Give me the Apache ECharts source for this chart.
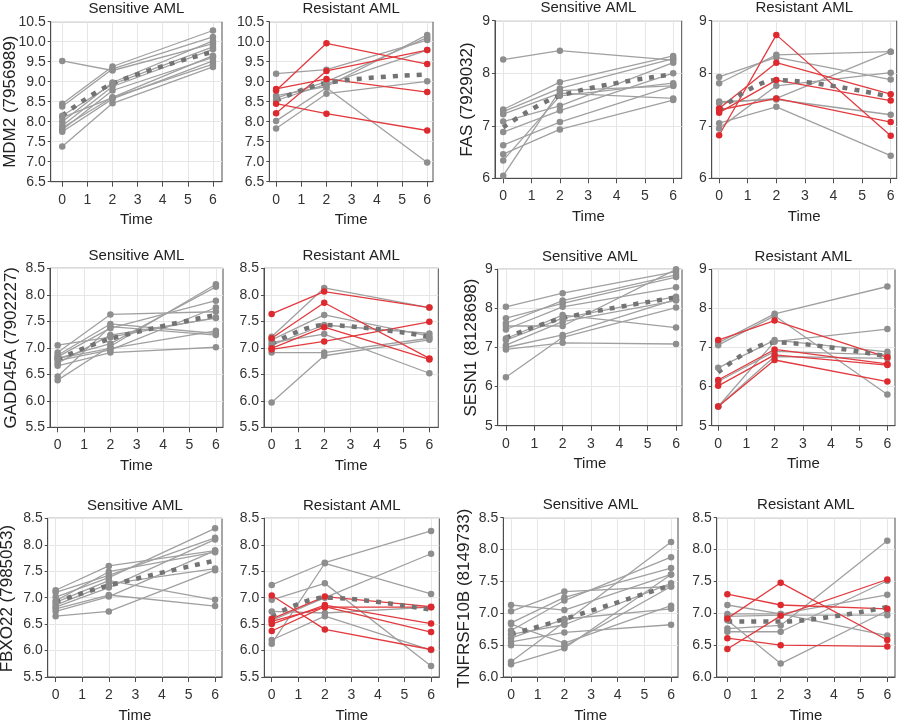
<!DOCTYPE html>
<html>
<head>
<meta charset="utf-8">
<script src="https://cdn.jsdelivr.net/npm/echarts@6/dist/echarts.min.js"></script>
<style>
  html, body { margin: 0; padding: 0; background: #fff; }
  #chart { width: 900px; height: 724px; }
</style>
</head>
<body>
<div id="chart"></div>
<script>
// sampling times and tick labels
const times = [0, 2, 6];
const timeTicks = [0, 1, 2, 3, 4, 5, 6];
const genes = ['MDM2 (7956989)', 'FAS (7929032)', 'GADD45A (7902227)', 'SESN1 (8128698)', 'FBXO22 (7985053)', 'TNFRSF10B (8149733)'];
const groups = ['Sensitive AML', 'Resistant AML'];
const yMin = [6.5, 6, 5.5, 5, 5.5, 6];
const yMax = [10.5, 9, 8.5, 9, 8.5, 8.5];
const yStep = [0.5, 1, 0.5, 1, 0.5, 0.5];

// each row = one patient, values at times 0, 2, 6
const mdm2Sens = [
  [9.52, 9.28, 9.95], [8.45, 9.38, 10.28], [8.38, 9.32, 10.12], [8.15, 8.94, 9.87],
  [8.0, 8.98, 10.02], [7.9, 8.88, 9.81], [7.85, 8.61, 9.65], [7.8, 8.78, 9.61],
  [7.75, 8.57, 9.52], [7.38, 8.46, 9.37], [8.1, 8.6, 9.44]
];
const mdm2SensTrend = [8.15, 8.95, 9.75];
const mdm2ResGray = [
  [9.2, 9.3, 10.04], [8.65, 8.88, 10.17], [8.59, 9.0, 10.1], [8.53, 8.94, 9.79],
  [7.83, 8.7, 9.01], [8.02, 8.85, 6.98]
];
const mdm2ResRed = [[8.78, 9.96, 9.44], [8.21, 9.27, 9.79], [8.82, 9.07, 8.74], [8.45, 8.2, 7.78]];
const mdm2ResTrend = [8.53, 8.97, 9.18];

const fasSens = [
  [8.26, 8.43, 8.25], [7.31, 7.83, 8.33], [7.27, 7.71, 8.28], [7.22, 7.62, 7.52],
  [7.08, 7.38, 8.2], [6.88, 7.29, 8.0], [6.63, 7.07, 7.76], [6.46, 6.93, 7.49],
  [6.34, 7.57, 7.81], [6.05, 7.67, 7.76]
];
const fasSensTrend = [6.97, 7.57, 7.98];
const fasResGray = [
  [7.93, 8.3, 7.88], [7.81, 8.35, 8.41], [7.46, 7.5, 7.21], [7.43, 7.52, 8.41],
  [6.95, 7.76, 8.01], [7.05, 7.36, 6.43]
];
const fasResRed = [[6.82, 8.73, 6.81], [7.33, 8.2, 7.6], [7.25, 7.87, 7.48], [7.3, 7.52, 7.07]];
const fasResTrend = [7.3, 7.87, 7.55];

const gaddSens = [
  [7.05, 7.2, 7.57], [6.91, 7.63, 7.68], [6.86, 7.45, 7.27], [6.83, 7.37, 7.89],
  [6.8, 7.08, 8.15], [6.76, 6.96, 7.76], [6.71, 7.24, 7.56], [6.66, 6.91, 7.01],
  [6.46, 7.4, 7.24], [6.39, 7.03, 8.2], [6.8, 6.99, 7.32]
];
const gaddSensTrend = [6.78, 7.17, 7.62];
const gaddResGray = [
  [7.21, 8.13, 7.76], [7.15, 7.62, 7.22], [7.1, 7.26, 6.52], [7.05, 7.43, 7.27],
  [6.91, 6.91, 7.18], [5.97, 6.85, 7.15]
];
const gaddResRed = [[7.64, 8.06, 7.76], [7.18, 7.85, 6.8], [6.99, 7.39, 6.78], [6.97, 7.12, 7.49]];
const gaddResTrend = [7.07, 7.43, 7.21];

const sesnSens = [
  [8.04, 8.39, 8.94], [7.75, 8.13, 8.8], [7.62, 8.2, 8.86], [7.55, 7.55, 9.0],
  [7.46, 8.04, 8.54], [7.23, 7.83, 7.51], [7.19, 7.75, 8.3], [7.06, 7.66, 8.2],
  [7.0, 7.32, 8.23], [6.95, 7.12, 7.09], [6.24, 7.26, 8.02]
];
const sesnSensTrend = [7.25, 7.75, 8.28];
const sesnResGray = [
  [7.12, 7.86, 8.56], [7.06, 7.81, 5.8], [6.48, 7.19, 6.89], [6.13, 6.9, 6.81],
  [5.49, 7.15, 7.47], [5.49, 6.77, 6.72]
];
const sesnResRed = [[7.19, 7.69, 6.75], [6.17, 6.95, 6.58], [6.02, 6.81, 6.55], [5.49, 6.68, 6.13]];
const sesnResTrend = [6.36, 7.13, 6.77];

const fbxoSens = [
  [7.14, 7.6, 7.89], [7.1, 7.42, 8.13], [7.01, 7.38, 8.31], [6.94, 7.49, 7.86],
  [6.91, 7.32, 6.96], [6.86, 7.26, 7.55], [6.82, 7.19, 8.1], [6.79, 7.05, 6.84],
  [6.74, 7.02, 7.89], [6.65, 6.74, 7.52]
];
const fbxoSensTrend = [6.92, 7.23, 7.7];
const fbxoResGray = [
  [7.24, 7.66, 8.26], [6.13, 7.65, 7.07], [6.96, 7.27, 5.71], [6.74, 6.71, 6.82],
  [6.57, 7.0, 7.83], [6.2, 6.65, 6.01]
];
const fbxoResRed = [[7.04, 6.4, 6.02], [6.6, 7.02, 6.83], [6.5, 6.86, 6.51], [6.37, 6.83, 6.35], [6.55, 6.82, 6.82]];
const fbxoResTrend = [6.65, 7.0, 6.77];

const tnfSens = [
  [7.13, 7.05, 7.61], [7.03, 7.34, 7.42], [6.85, 7.25, 7.71], [6.83, 6.53, 7.12],
  [6.73, 7.2, 7.88], [6.67, 6.82, 7.47], [6.61, 6.91, 7.07], [6.55, 6.7, 6.82],
  [6.5, 6.48, 7.42], [6.24, 6.86, 8.12], [6.2, 6.45, 7.61]
];
const tnfSensTrend = [6.67, 6.91, 7.44];
const tnfResGray = [
  [7.13, 6.99, 6.65], [6.99, 6.99, 7.29], [6.89, 6.21, 7.04], [6.76, 6.81, 8.14],
  [6.71, 6.71, 7.51], [6.95, 6.97, 6.97]
];
const tnfResRed = [[7.3, 7.13, 7.07], [6.92, 7.48, 6.58], [6.61, 6.5, 6.48], [6.44, 6.96, 7.53]];
const tnfResTrend = [6.87, 6.87, 7.1];

// panels in reading order
const panels = [
  [0, 0, mdm2Sens, [], mdm2SensTrend], [0, 1, mdm2ResGray, mdm2ResRed, mdm2ResTrend],
  [1, 0, fasSens, [], fasSensTrend], [1, 1, fasResGray, fasResRed, fasResTrend],
  [2, 0, gaddSens, [], gaddSensTrend], [2, 1, gaddResGray, gaddResRed, gaddResTrend],
  [3, 0, sesnSens, [], sesnSensTrend], [3, 1, sesnResGray, sesnResRed, sesnResTrend],
  [4, 0, fbxoSens, [], fbxoSensTrend], [4, 1, fbxoResGray, fbxoResRed, fbxoResTrend],
  [5, 0, tnfSens, [], tnfSensTrend], [5, 1, tnfResGray, tnfResRed, tnfResTrend]
];

// layout: plot boxes [left, top, right, bottom] and x extents
const boxes = [
  [50.7, 21.7, 222, 181.7], [269.3, 21.7, 433, 181.7], [495, 20.7, 681.7, 178.3], [711.7, 20.7, 896.7, 178.3],
  [50, 268.3, 223, 427.3], [264, 268.3, 438.3, 427.3], [497.7, 269.3, 682, 425.7], [711.7, 269.3, 895, 425.7],
  [47.7, 518.3, 222, 679], [264.3, 518.3, 439.3, 679], [503.3, 517.7, 678, 679], [716.7, 517.7, 895, 679]
];
const xExt = [
  [-0.46, 6.36], [-0.27, 6.23], [-0.29, 6.3], [-0.26, 6.21],
  [-0.29, 6.27], [-0.29, 6.34], [-0.29, 6.21], [-0.23, 6.27],
  [-0.3, 6.26], [-0.28, 6.31], [-0.29, 6.26], [-0.4, 6.29]
];
const nameX = [10, 467, 11, 471, 7.5, 464];

const font = 'Liberation Sans, Arial, sans-serif';
const frame = '#4d4d4d';
const grids = [], xAxes = [], yAxes = [], series = [], graphics = [];

function pts(row) {
  return row.map((v, k) => [times[k], v]);
}

panels.forEach((p, i) => {
  const [g, grp, gray, red, trend] = p;
  const b = boxes[i];
  grids.push({
    left: b[0], top: b[1], width: b[2] - b[0], height: b[3] - b[1],
    show: true, borderColor: frame, borderWidth: 1
  });
  xAxes.push({
    gridIndex: i, type: 'value', min: xExt[i][0], max: xExt[i][1],
    name: 'Time', nameLocation: 'middle', nameGap: 31,
    nameTextStyle: { fontFamily: font, fontSize: 15, color: '#222' },
    axisLine: { show: true, onZero: false, lineStyle: { color: frame } },
    axisTick: { show: true, length: 5, customValues: timeTicks, lineStyle: { color: frame } },
    axisLabel: { customValues: timeTicks, margin: 11, fontFamily: font, fontSize: 14, color: '#333' },
    splitLine: { show: true, lineStyle: { color: '#e6e6e6' } }
  });
  yAxes.push({
    gridIndex: i, type: 'value', min: yMin[g], max: yMax[g], interval: yStep[g],
    axisLine: { show: true, onZero: false, lineStyle: { color: frame } },
    axisTick: { show: true, length: 3, lineStyle: { color: frame } },
    axisLabel: {
      margin: 5, fontFamily: font, fontSize: 14, color: '#333',
      formatter: v => yStep[g] < 1 ? v.toFixed(1) : String(v)
    },
    splitLine: { show: true, lineStyle: { color: '#e6e6e6' } }
  });
  gray.forEach(row => series.push({
    type: 'line', xAxisIndex: i, yAxisIndex: i, data: pts(row),
    symbol: 'circle', symbolSize: 6.5, silent: true,
    lineStyle: { color: '#a0a0a0', width: 1.3 },
    itemStyle: { color: '#8e8e8e' }
  }));
  red.forEach(row => series.push({
    type: 'line', xAxisIndex: i, yAxisIndex: i, data: pts(row),
    symbol: 'circle', symbolSize: 6.5, silent: true,
    lineStyle: { color: '#e23a3e', width: 1.3 },
    itemStyle: { color: '#dd2a2f' }
  }));
  series.push({
    type: 'line', xAxisIndex: i, yAxisIndex: i, data: pts(trend),
    smooth: 0.35, showSymbol: false, silent: true,
    lineStyle: { color: '#737373', width: 4.5, type: [5, 7], cap: 'butt' }
  });
  graphics.push({
    type: 'text', x: (b[0] + b[2]) / 2, y: b[1] - 12.5,
    style: { text: groups[grp], fontFamily: font, fontSize: 15, fill: '#222', textAlign: 'center', textVerticalAlign: 'middle' }
  });
  if (grp === 0) {
    graphics.push({
      type: 'text', x: nameX[g], y: (b[1] + b[3]) / 2, rotation: Math.PI / 2,
      style: { text: genes[g], fontFamily: font, fontSize: 17, fill: '#222', textAlign: 'center', textVerticalAlign: 'middle' }
    });
  }
});

const chart = echarts.init(document.getElementById('chart'));
chart.setOption({
  animation: false,
  backgroundColor: '#fff',
  grid: grids,
  xAxis: xAxes,
  yAxis: yAxes,
  series: series,
  graphic: graphics
});
</script>
</body>
</html>
